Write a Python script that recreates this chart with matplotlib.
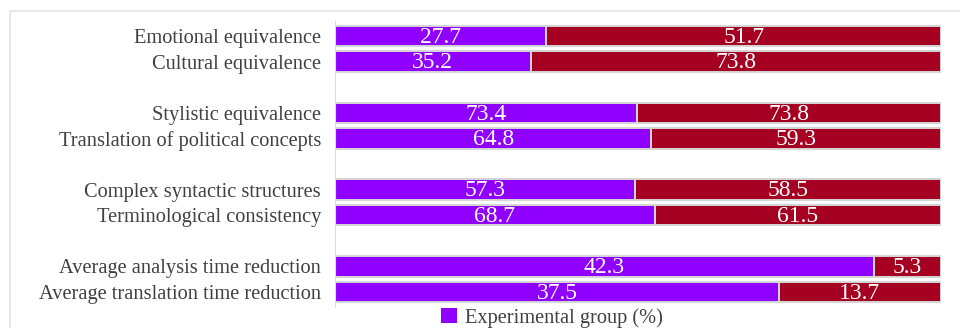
import numpy as np
import matplotlib
matplotlib.use('Agg')
import matplotlib.pyplot as plt
from matplotlib.patches import Rectangle, Patch

CATEGORIES = ['Emotional equivalence', 'Cultural equivalence',
              'Stylistic equivalence', 'Translation of political concepts',
              'Complex syntactic structures', 'Terminological consistency',
              'Average analysis time reduction', 'Average translation time reduction']
EXPERIMENTAL = [27.7, 35.2, 73.4, 64.8, 57.3, 68.7, 42.3, 37.5]
CONTROL = [51.7, 73.8, 73.8, 59.3, 58.5, 61.5, 5.3, 13.7]
SLOTS = [0, 1, 3, 4, 6, 7, 9, 10]

PURPLE = '#8f00ff'
RED = '#a50021'
EDGE = '#d6d6d6'


def main():
    plt.rcParams['font.family'] = ['Liberation Serif', 'DejaVu Serif']

    fig = plt.figure(figsize=(9.6, 3.28), dpi=100)
    fig.patches.append(Rectangle((10 / 960, -0.1), 1.2, 1 - 11 / 328 + 0.1,
                                 transform=fig.transFigure, facecolor='white',
                                 edgecolor='#e4e4e4', linewidth=1.2, zorder=-1))
    ax = fig.add_axes([335 / 960, 1 - 307.4 / 328, 606 / 960, 286.7 / 328])
    ax.set_facecolor('none')

    exp = np.array(EXPERIMENTAL)
    ctl = np.array(CONTROL)
    total = exp + ctl
    exp_share = exp / total * 100
    ctl_share = ctl / total * 100
    y = np.array(SLOTS)

    ax.barh(y, exp_share, height=0.8, color=PURPLE, edgecolor=EDGE, linewidth=1.4)
    ax.barh(y, ctl_share, left=exp_share, height=0.8, color=RED, edgecolor=EDGE,
            linewidth=1.4)

    for yi, e, es, c, cs in zip(y, exp, exp_share, ctl, ctl_share):
        ax.text(es / 2, yi + 0.05, '%.1f' % e, ha='center', va='center', color='white',
                fontsize=17)
        ax.text(es + cs / 2, yi + 0.05, '%.1f' % c, ha='center', va='center',
                color='white', fontsize=17)

    ax.set_xlim(0, 100)
    ax.set_ylim(10.6, -0.6)
    ax.set_yticks(y)
    ax.set_yticklabels(CATEGORIES, fontsize=14.7, color='#404040')
    ax.tick_params(axis='y', length=0, pad=10)
    ax.set_xticks([])
    for side in ['top', 'right', 'bottom']:
        ax.spines[side].set_visible(False)
    ax.spines['left'].set_color('#dddddd')

    fig.legend([Patch(facecolor=PURPLE, edgecolor='none')], ['Experimental group (%)'],
               loc='center', bbox_to_anchor=(0.575, 0.03), frameon=False,
               fontsize=14.7, handlelength=0.75, handleheight=0.75,
               handletextpad=0.4, labelcolor='#404040')

    fig.savefig('out.png', dpi=100)


if __name__ == '__main__':
    main()
